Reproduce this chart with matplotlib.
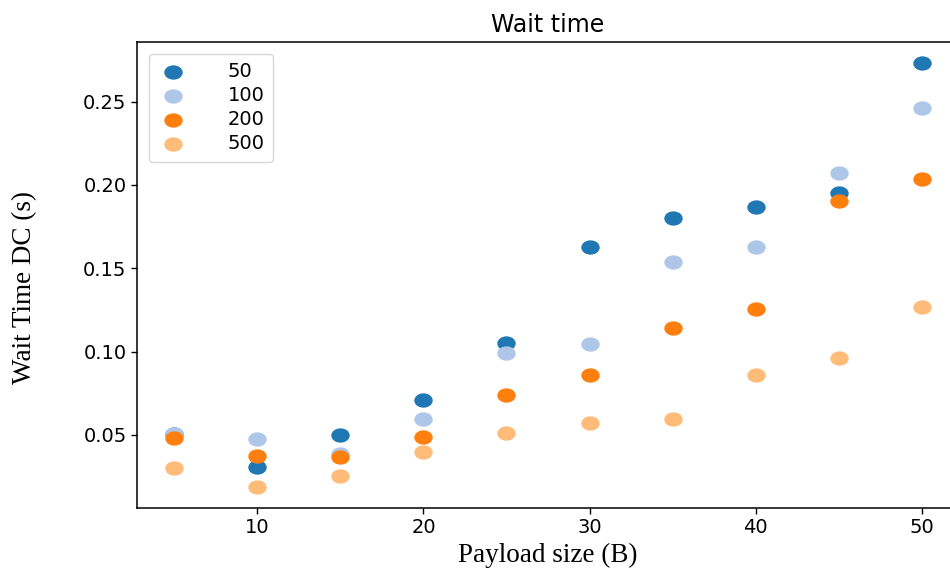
import numpy as np
import matplotlib
matplotlib.use("Agg")
import matplotlib.pyplot as plt
from matplotlib.path import Path
from matplotlib.transforms import Affine2D

# Payload sizes (bytes)
payload = [5, 10, 15, 20, 25, 30, 35, 40, 45, 50]

# Wait time per configuration (seconds)
labels = ["50", "100", "200", "500"]
wait_50 = [0.0505, 0.0308, 0.0500, 0.0710, 0.1050, 0.1630, 0.1800, 0.1870, 0.1950, 0.2730]
wait_100 = [0.0505, 0.0476, 0.0385, 0.0596, 0.0990, 0.1045, 0.1540, 0.1630, 0.2070, 0.2460]
wait_200 = [0.0482, 0.0374, 0.0368, 0.0490, 0.0740, 0.0860, 0.1140, 0.1255, 0.1905, 0.2033]
wait_500 = [0.0300, 0.0189, 0.0255, 0.0400, 0.0512, 0.0572, 0.0596, 0.0860, 0.0960, 0.1267]

series = [wait_50, wait_100, wait_200, wait_500]
colors = ["#1f77b4", "#aec7e8", "#ff7f0e", "#ffbb78"]

# slightly wide elliptical marker
ellipse = Path.unit_circle().transformed(Affine2D().scale(1.0, 0.76))

fig = plt.figure(figsize=(9.5, 5.72), dpi=100)
ax = fig.add_axes([0.1442, 0.1119, 1.0095 - 0.1442, 0.9266 - 0.1119])

for vals, col, lab in zip(series, colors, labels):
    ax.scatter(payload, vals, s=150, marker=ellipse, color=col, label=lab)

ax.set_title("Wait time", fontsize=17, family="DejaVu Sans", pad=7)
ax.set_xlabel("Payload size (B)", fontsize=19.5, family="Liberation Serif", labelpad=4)
ax.set_ylabel("Wait Time DC (s)", fontsize=19.5, family="Liberation Serif")
ax.yaxis.set_label_coords(-0.122, 0.474)

ax.set_xticks([10, 20, 30, 40, 50])
ax.set_yticks([0.05, 0.10, 0.15, 0.20, 0.25])
ax.set_yticklabels(["0.05", "0.10", "0.15", "0.20", "0.25"])
ax.tick_params(labelsize=14, length=4, width=1)
for sp in ax.spines.values():
    sp.set_linewidth(1.1)

leg = ax.legend(loc="upper left", fontsize=14, handletextpad=2.0, labelspacing=0.25,
                borderaxespad=0.6, borderpad=0.45, handlelength=1.6)

fig.savefig("out.png", dpi=100)
